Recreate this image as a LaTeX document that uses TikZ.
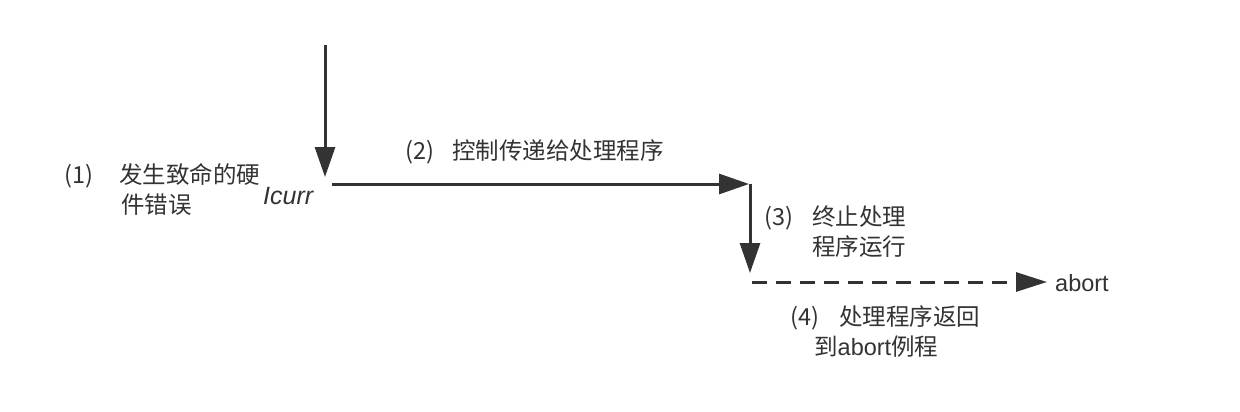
\documentclass[tikz,border=0pt]{standalone}
\usepackage{fontspec}
\setmainfont{Noto Sans CJK SC}
\newfontfamily\latinfont{Liberation Sans}
\usetikzlibrary{arrows.meta}
\definecolor{ink}{HTML}{333333}
\begin{document}
\begin{tikzpicture}[x=1pt,y=-1pt,
  flow/.style={draw=ink,line width=3pt,-{Triangle[width=20pt,length=30pt]}},
  dflow/.style={draw=ink,line width=3pt,dash pattern=on 15pt off 9pt,-{Triangle[width=19pt,length=31pt]}},
  lbl/.style={text=ink,font=\fontsize{23.5}{30}\selectfont,inner sep=0pt,align=left,anchor=west}]
\useasboundingbox[fill=white] (0,0) rectangle (1240,412);
\coordinate (top) at (325,45);
\coordinate (a) at (325,177);
\coordinate (b0) at (332,184);
\coordinate (b) at (749,184);
\coordinate (c0) at (750,184);
\coordinate (c) at (750,273);
\coordinate (d0) at (752,282);
\coordinate (d) at (1047,282);
\draw[flow] (top) -- (a);
\draw[flow] (b0) -- (b);
\draw[flow] (c0) -- (c);
\draw[dflow] (d0) -- (d);
\node[lbl] (t1) at (64,189) {\makebox[55pt][l]{(1)}发生致命的硬\\\hspace{57pt}件错误};
\node[lbl] (t1b) at (263,196) {\fontsize{25}{30}\selectfont\latinfont\itshape Icurr};
\node[lbl] (t2) at (405,152) {\makebox[47pt][l]{(2)}控制传递给处理程序};
\node[lbl] (t3) at (764,232) {\makebox[48pt][l]{(3)}终止处理\\\hspace{48pt}程序运行};
\node[lbl] (t4) at (1055,283) {\latinfont abort};
\node[lbl] (t5) at (790,332) {\makebox[49pt][l]{(4)}处理程序返回\\\hspace{24pt}到{\latinfont abort}例程};
\end{tikzpicture}
\end{document}
